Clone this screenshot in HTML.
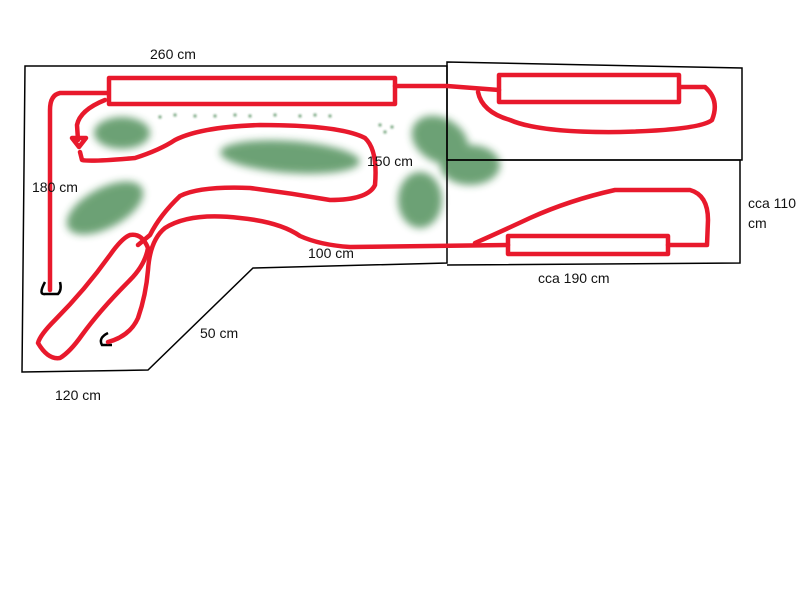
<!DOCTYPE html>
<html><head><meta charset="utf-8"><style>
html,body{margin:0;padding:0;background:#fff;width:800px;height:600px;overflow:hidden}
text{font-family:"Liberation Sans",sans-serif;font-size:14px;fill:#111}
</style></head><body>
<svg width="800" height="600" viewBox="0 0 800 600" xmlns="http://www.w3.org/2000/svg">
<defs>
<filter id="b" x="-30%" y="-30%" width="160%" height="160%"><feGaussianBlur stdDeviation="4"/></filter>
<filter id="b2"><feGaussianBlur stdDeviation="1"/></filter>
</defs>
<g fill="#2e7a3a" opacity="0.7">
<g filter="url(#b)">
<ellipse cx="122" cy="133" rx="28" ry="16"/>
<ellipse cx="290" cy="157" rx="70" ry="16" transform="rotate(4 290 157)"/>
<ellipse cx="105" cy="208" rx="42" ry="20" transform="rotate(-28 105 208)"/>
<ellipse cx="440" cy="140" rx="30" ry="22" transform="rotate(30 440 140)"/>
<ellipse cx="470" cy="165" rx="30" ry="20"/>
<ellipse cx="420" cy="200" rx="22" ry="28"/>
</g>
<g filter="url(#b2)" fill="#1e6a2a">
<circle cx="160" cy="117" r="1.5"/><circle cx="175" cy="115" r="1.5"/><circle cx="195" cy="116" r="1.5"/><circle cx="215" cy="116" r="1.5"/><circle cx="235" cy="115" r="1.5"/><circle cx="250" cy="116" r="1.5"/><circle cx="275" cy="115" r="1.5"/><circle cx="300" cy="116" r="1.5"/><circle cx="315" cy="115" r="1.5"/><circle cx="330" cy="116" r="1.5"/><circle cx="380" cy="125" r="1.5"/><circle cx="385" cy="132" r="1.5"/><circle cx="392" cy="127" r="1.5"/>
</g>
</g>
<g fill="none" stroke="#000" stroke-width="1.5">
<path d="M25,66 L447,66 L447,263 L253,268 L148,370 L22,372 Z"/>
<path d="M447,62 L742,68 L742,160 L447,160 Z"/>
<path d="M447,160 L740,160 L740,263 L447,265"/>
<path d="M45,282 Q38,295 45,294 L58,294 Q62,290 60,282" stroke-width="2.5"/>
<path d="M108,333 Q98,338 102,345 L112,345" stroke-width="2.5"/>
</g>
<g fill="none" stroke="#e8192c" stroke-width="4.5" stroke-linejoin="round" stroke-linecap="round">
<rect x="109" y="78" width="286" height="26"/>
<rect x="499" y="75" width="180" height="27"/>
<rect x="508" y="236" width="160" height="18"/>
<path d="M108,93 L60,93 Q50,95 50,110 L50,290"/>
<path d="M105,100 Q80,110 77,125 L78,140 M72,138 L86,138 L79,147 Z M80,152 L82,160 Q90,162 135,158 Q160,150 175,140 Q200,127 260,125 Q340,125 365,138 Q378,150 375,185 Q368,200 330,200 Q290,193 250,188 Q200,186 180,196 Q160,215 150,235 L138,245"/>
<path d="M130,235 Q142,233 148,248 Q145,265 130,280 Q100,310 82,335 Q70,352 60,358 Q48,360 38,343 Q40,335 55,320 Q85,290 110,255 Q122,238 130,235 Z"/>
<path d="M108,342 Q130,336 138,318 Q146,295 148,270 Q150,240 165,228 Q190,212 240,218 Q280,222 300,236 Q320,245 350,247 L508,245"/>
<path d="M395,86 L447,86 L499,90"/>
<path d="M478,92 Q482,112 510,120 Q540,133 620,132 Q700,130 712,120 Q720,100 705,87 L680,87"/>
<path d="M475,243 Q500,232 530,218 Q570,200 615,190 L690,190 Q708,195 708,220 L707,245 L668,245"/>
</g>
<text x="150" y="59">260 cm</text>
<text x="32" y="192">180 cm</text>
<text x="367" y="166">150 cm</text>
<text x="308" y="258">100 cm</text>
<text x="200" y="338">50 cm</text>
<text x="55" y="400">120 cm</text>
<text x="538" y="283">cca 190 cm</text>
<text x="748" y="208">cca 110</text>
<text x="748" y="228">cm</text>
</svg>
</body></html>
